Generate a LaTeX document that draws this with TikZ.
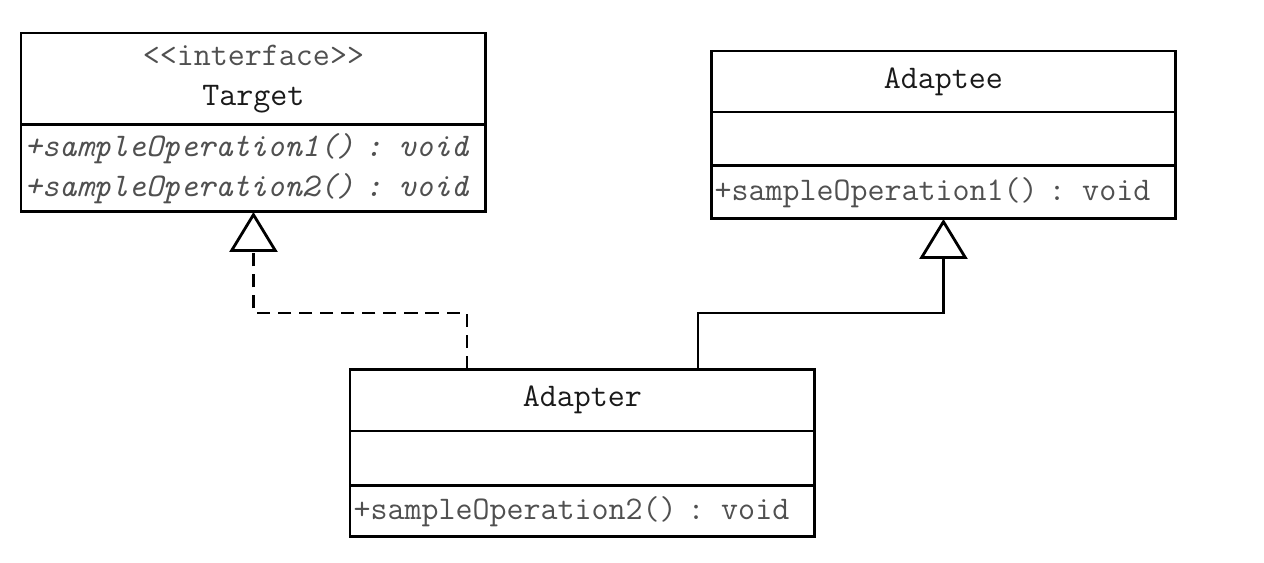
\documentclass[tikz,border=0pt]{standalone}
\usepackage{fontspec}
\usetikzlibrary{arrows.meta,positioning}
\definecolor{umlink}{HTML}{1A1A1A}
\definecolor{umlgray}{HTML}{505050}
\tikzset{
  compartment/.style={draw=black, line width=1.7pt, minimum width=9.3cm,
    text width=9.16cm, inner xsep=0.07cm, inner ysep=0pt, outer sep=0pt,
    text=umlink, font=\ttfamily\fontsize{18.8}{22.5}\selectfont},
  headpart/.style={compartment, align=center},
  opspart/.style={compartment, align=left, text=umlgray},
  realize/.style={line width=1.3pt, dash pattern=on 7.5pt off 4.5pt,
    -{Triangle[open, length=0.8cm, width=0.96cm, line width=1.6pt]}},
  inherit/.style={line width=1.3pt,
    -{Triangle[open, length=0.8cm, width=0.96cm, line width=1.6pt]}}
}
\begin{document}
\begin{tikzpicture}[x=0.02cm, y=-0.02cm]
    \fill[white] (0,0) rectangle (1264,562); % page background
    \useasboundingbox (0,0) rectangle (1264,562);

    % Target (interface)
    \node[headpart, minimum height=1.84cm, anchor=north west] (targethead)
        at (21,33) {{\color{umlgray}<{}<interface>{}>}\\Target};
    \node[opspart, minimum height=1.74cm, below=0pt of targethead] (targetops)
        {\itshape +sampleOperation1() : void\\+sampleOperation2() : void};

    % Adaptee
    \node[headpart, minimum height=1.22cm, anchor=north west] (adapteehead)
        at (711,51) {Adaptee};
    \node[compartment, minimum height=1.08cm, below=0pt of adapteehead]
        (adapteeattr) {};
    \node[opspart, minimum height=1.06cm, below=0pt of adapteeattr]
        (adapteeops) {+sampleOperation1() : void};

    % Adapter
    \node[headpart, minimum height=1.24cm, anchor=north west] (adapterhead)
        at (350,369) {Adapter};
    \node[compartment, minimum height=1.1cm, below=0pt of adapterhead]
        (adapterattr) {};
    \node[opspart, minimum height=1.02cm, below=0pt of adapterattr]
        (adapterops) {+sampleOperation2() : void};

    % realization and generalization
    \draw[realize] ([xshift=-2.31cm]adapterhead.north)
        -- ++(0,-56) -| (targetops.south);
    \draw[inherit] ([xshift=2.31cm]adapterhead.north)
        -- ++(0,-56) -| (adapteeops.south);
\end{tikzpicture}
\end{document}
